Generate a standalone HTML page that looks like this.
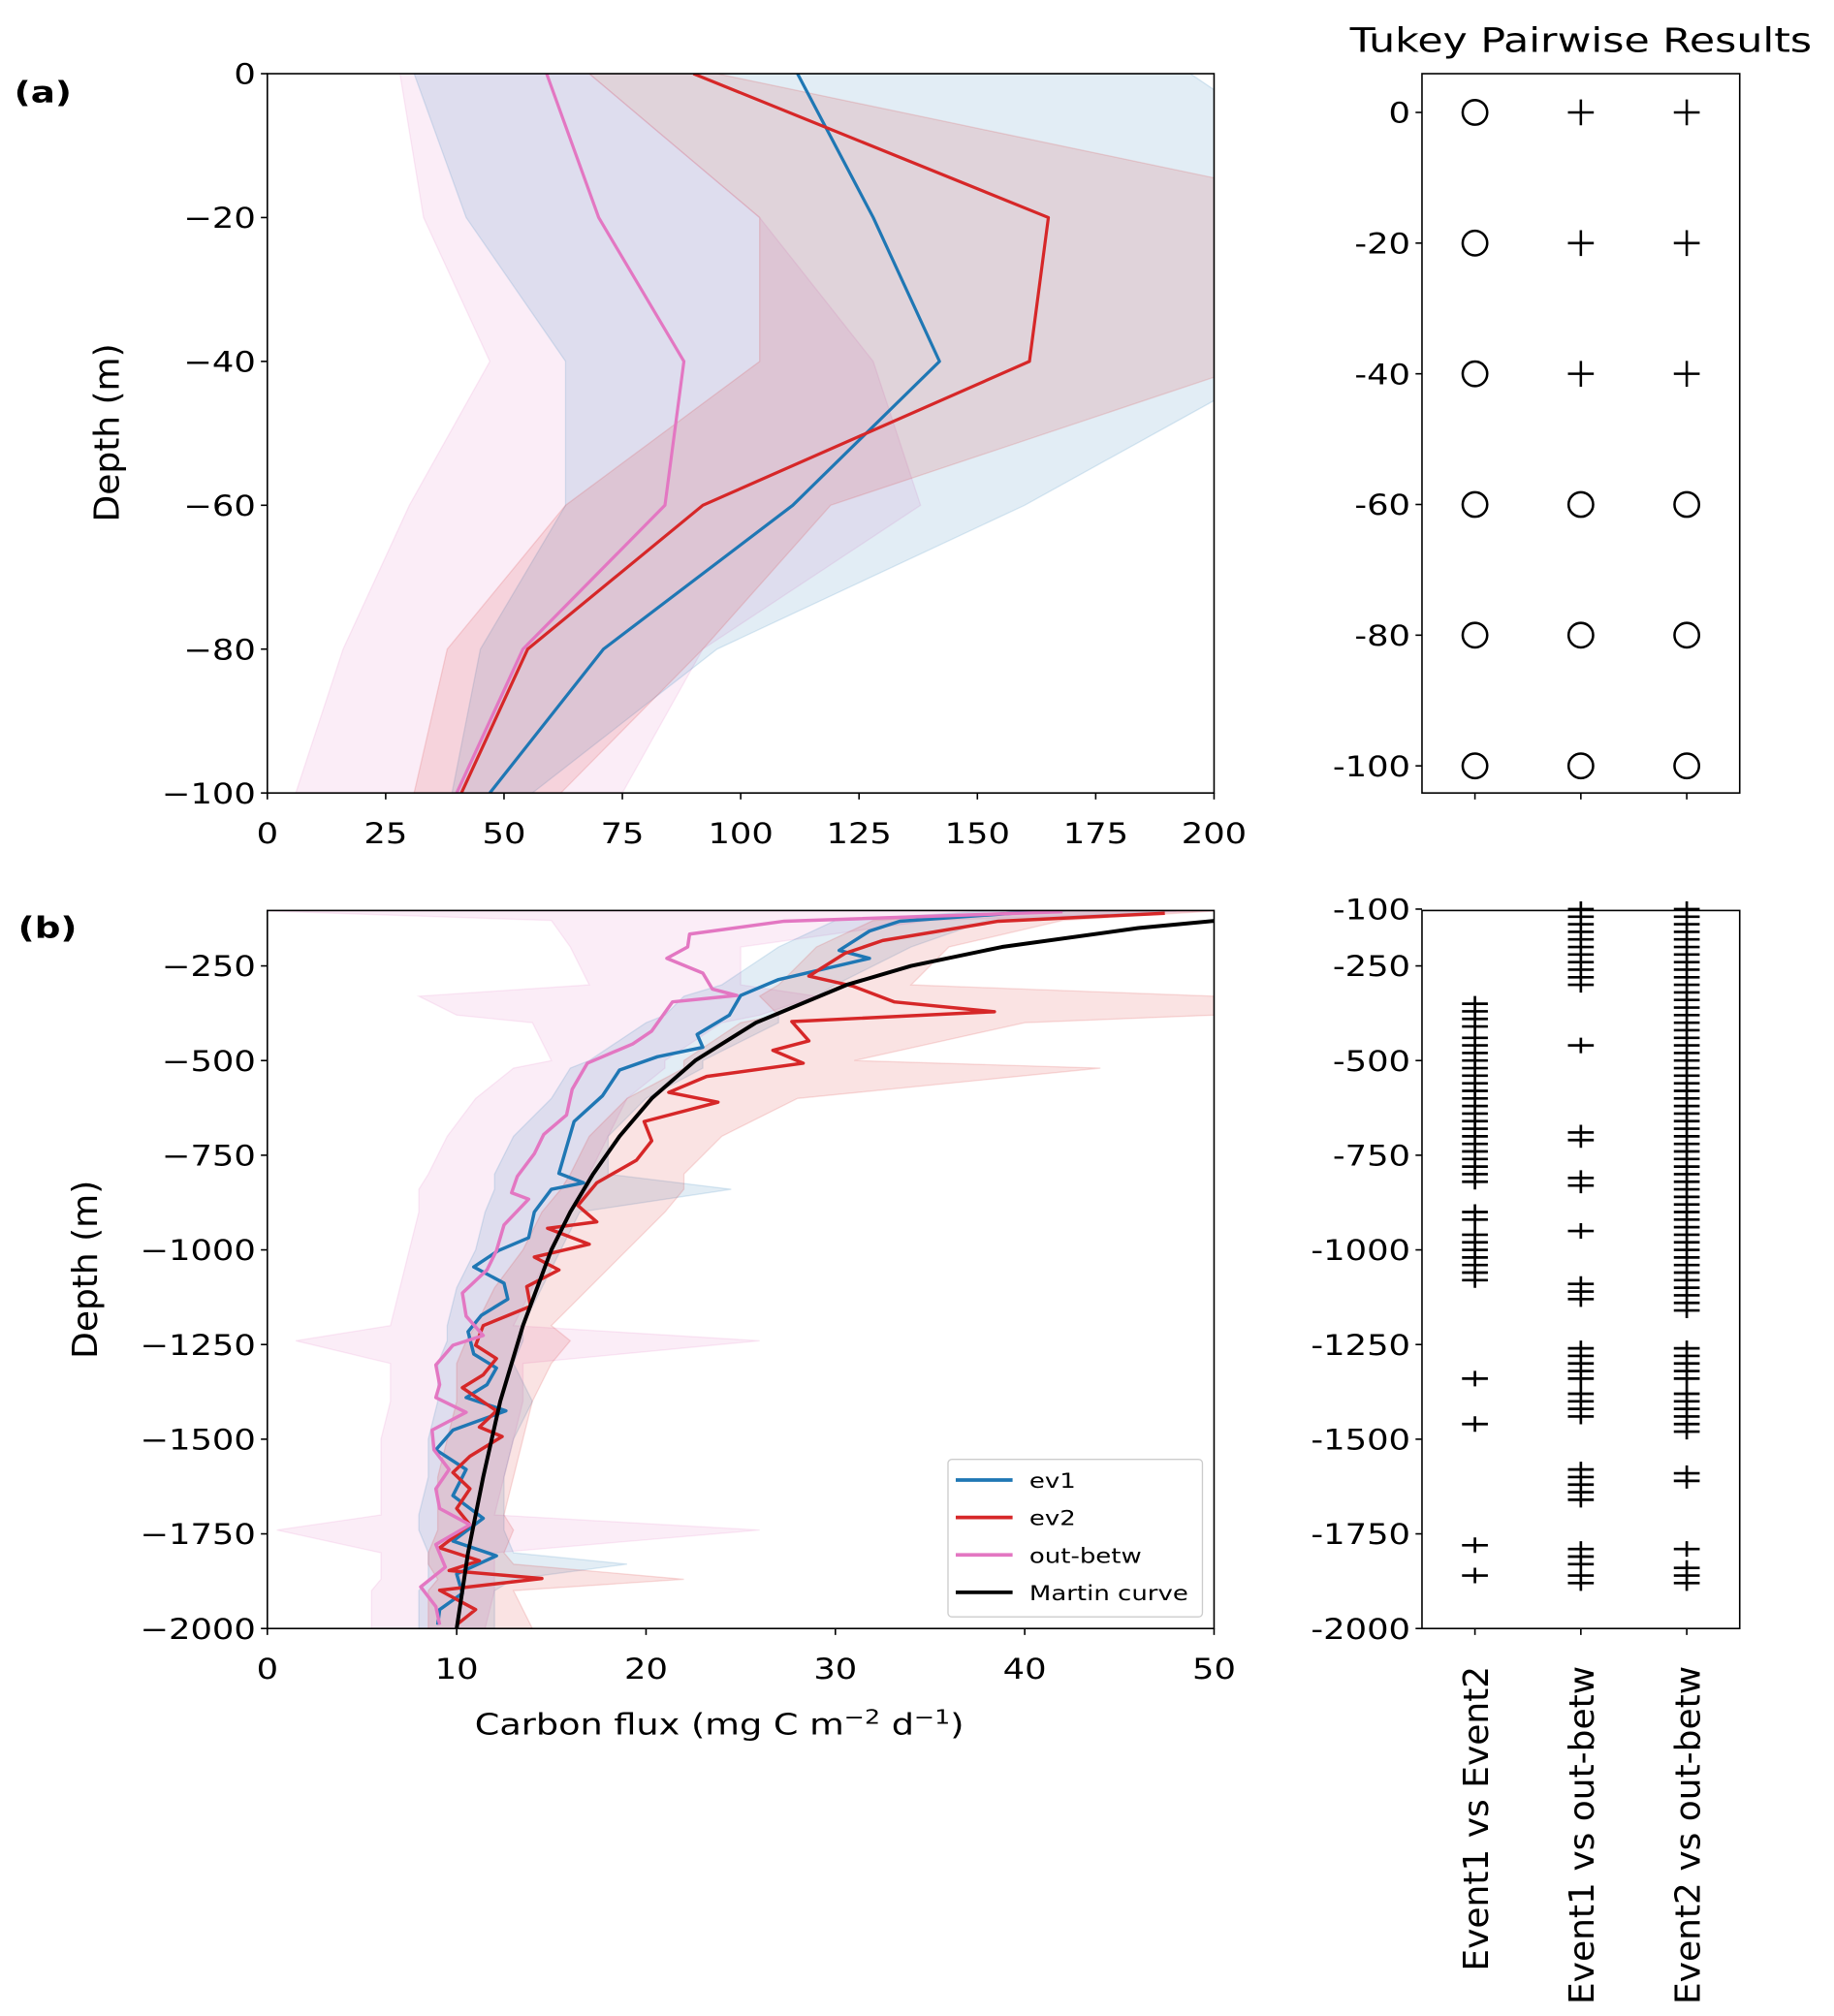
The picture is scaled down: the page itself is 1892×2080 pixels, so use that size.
<!DOCTYPE html>
<html><head><meta charset="utf-8">
<style>html,body{margin:0;padding:0;background:#fff}svg{display:block;font-family:"DejaVu Sans","Liberation Sans",sans-serif}</style>
</head><body>
<svg id="fig" width="1892" height="2080" viewBox="0 0 1420 1561" xmlns="http://www.w3.org/2000/svg">
<defs>
<clipPath id="clipA"><rect x="207" y="57" width="733" height="557"/></clipPath>
<clipPath id="clipB"><rect x="207" y="705" width="733" height="556"/></clipPath>
</defs>
<g id="root"></g>
</svg>
<script>
// ---------- Panel (a) data ----------
const depthsA = [0,-20,-40,-60,-80,-100];
const ev1A = [112,128,142,111,71,47];
const ev2A = [90,165,161,92,55,41];
const outA = [59,70,88,84,54,40];
const ev1ALo = [31,42,63,63,45,39];
const ev1AHi = [195,240,215,160,95,56];
const ev2ALo = [68,104,104,63,38,31];
const ev2AHi = [95,240,210,119,92,62];
const outALo = [28,33,47,30,16,6];
const outAHi = [68,104,128,138,92,75];
const xTicksA = [0,25,50,75,100,125,150,175,200];
const yTicksA = [0,-20,-40,-60,-80,-100];
// Tukey (a): 1 = significant (+), 0 = not (o)
const tukeyA_c1 = [0,0,0,0,0,0];
const tukeyA_c2 = [1,1,1,0,0,0];
const tukeyA_c3 = [1,1,1,0,0,0];
const tukeyLabels = ["Event1 vs Event2","Event1 vs out-betw","Event2 vs out-betw"];

// ---------- Panel (b) data ----------
const ev1BDepth = [-98,-132,-158,-209,-230,-286,-328,-380,-431,-465,-490,-525,-593,-661,-729,-798,-823,-840,-900,-968,-1002,-1045,-1088,-1130,-1173,-1216,-1275,-1312,-1356,-1390,-1425,-1476,-1528,-1580,-1649,-1709,-1769,-1808,-1856,-1907,-1950,-1990];
const ev1BVal = [43,33.4,31.8,30.2,31.8,27,25,24.4,22.7,23,20.6,18.6,17.7,16.2,15.8,15.4,16.7,15,14.1,13.8,12.2,10.9,12.5,12.7,11.3,10.6,10.9,12.1,11.6,10.5,12.6,9.8,8.9,10.5,9.8,11.4,9.8,12.1,10,10.3,9.1,9];
const ev2BDepth = [-111,-132,-183,-217,-277,-303,-345,-371,-397,-448,-473,-507,-542,-584,-610,-661,-712,-763,-823,-883,-926,-943,-985,-1019,-1053,-1097,-1149,-1200,-1252,-1287,-1330,-1364,-1425,-1468,-1493,-1545,-1588,-1631,-1683,-1726,-1787,-1821,-1847,-1868,-1899,-1950,-1990];
const ev2BVal = [47.4,38.6,32.5,30.5,28.6,30.9,33.1,38.4,27.7,28.6,26.7,28.3,23.2,21.2,23.8,19.9,20.3,19.5,17.4,16.4,17.4,14.8,17,14.1,15.4,13.7,13.9,11.4,11,12.1,11.4,10.3,12.1,11.2,12.4,10.7,9.8,10.7,10,10.7,9.1,11.2,9.6,14.5,9.1,11,10];
const outBDepth = [-107,-132,-166,-200,-230,-269,-311,-328,-345,-422,-456,-507,-576,-644,-695,-746,-806,-849,-866,-934,-1002,-1053,-1114,-1175,-1226,-1252,-1304,-1356,-1390,-1429,-1476,-1528,-1580,-1631,-1683,-1726,-1778,-1838,-1890,-1942,-1990];
const outBVal = [42,27.3,22.3,22.2,21.1,23,23.5,24.8,21.4,20.3,19.3,16.9,16.1,15.8,14.6,14.1,13.2,12.9,13.8,12.5,12.1,11.6,10.3,10.5,11.4,9.8,8.9,9.1,8.9,10.5,8.7,8.8,9.6,8.9,9.1,10.7,8.9,9.4,8.1,8.9,9.1];
const martinDepth = [-120,-150,-200,-250,-300,-400,-500,-600,-700,-800,-900,-1000,-1200,-1400,-1600,-1800,-2000];
const martinVal = [52.4,46.0,38.8,34.0,30.6,25.8,22.6,20.3,18.6,17.2,16.0,15.0,13.5,12.3,11.4,10.6,10.0];
const bandDepth = [-105,-130,-200,-300,-330,-380,-400,-500,-520,-600,-700,-800,-840,-900,-1000,-1100,-1200,-1240,-1300,-1400,-1500,-1600,-1700,-1740,-1800,-1830,-1870,-1900,-2000];
const ev1BLo = [38,30,27,24,22,21,20,17,16,15,13,12,12,11.5,11,10,9.5,9.5,9,9,8.5,8.5,8,8,8.5,8.5,8.5,8,8];
const ev1BHi = [48,38,34,30,29,27,27,23,23,20,18,18,24.5,16.5,15.5,14.5,13.5,13.5,13,14,13,12.5,12.5,12.5,13,19,13,12,12];
const ev2BLo = [40,32,29,27,26,27,25,22,22,19,17,16,15.5,14.5,13.5,12,11,10.5,10,10,9.5,9,9,9,8.5,8.5,9,8.5,8.5];
const ev2BHi = [50,42,36,34,50,50,40,31,44,28,24,22,22,21,19,17,15,16,15,14,13.5,13,12.5,13,12.5,13,22,13,14];
const outBLo = [0,15,16,17,8,10,14,15,13,11,9.5,8.5,8,8,7.5,7,6.5,1.5,6.5,6.5,6,6,6,0.5,6,6,6,5.5,5.5];
const outBHi = [50,35,25,25,29,26,24,21,21,19,18,17,17,16,15,14,13,26,13.5,13.5,13,12.5,12,26,12,12,12,12,11.5];
const xTicksB = [0,10,20,30,40,50];
const yTicksB = [-250,-500,-750,-1000,-1250,-1500,-1750,-2000];
const yTicksBr = [-100,-250,-500,-750,-1000,-1250,-1500,-1750,-2000];
// significant depth ranges (20 m spacing) per comparison
const sigC1 = [[-350,-420],[-440,-500],[-520,-600],[-620,-800],[-820,-820],[-900,-920],[-960,-980],[-1000,-1080],[-1340,-1340],[-1460,-1460],[-1780,-1780],[-1860,-1860]];
const sigC2 = [[-100,-300],[-460,-460],[-690,-710],[-810,-830],[-950,-950],[-1090,-1130],[-1260,-1340],[-1380,-1440],[-1580,-1620],[-1640,-1660],[-1790,-1840],[-1860,-1880]];
const sigC3 = [[-100,-340],[-360,-1160],[-1260,-1300],[-1320,-1340],[-1380,-1480],[-1590,-1620],[-1790,-1800],[-1840,-1880]];

// ---------- axis functions ----------
const xA = v => 207 + v * 733 / 200;
const yA = d => 57 + (-d) * 557 / 100;
const xR = c => 1101 + (c - 0.5) * 246 / 3;
const yRA = d => 87 + (-d) * 5.06;
const xB = v => 207 + v * 14.66;
const yB = d => 1261 - (2000 + d) * 0.2932;

const NS = "http://www.w3.org/2000/svg";
const root = document.getElementById('root');
function mk(tag, attrs, parent, text) {
  const e = document.createElementNS(NS, tag);
  for (const k in attrs) e.setAttribute(k, attrs[k]);
  if (text !== undefined) e.textContent = text;
  (parent || root).appendChild(e);
  return e;
}
const SY = 0.82;   // vertical squash of horizontal text
function T(parent, x, y, str, size, anchor, rot, sy) {
  return mk('text', {x: 0, y: 0, 'font-size': size, 'text-anchor': anchor,
    transform: `translate(${x},${y}) rotate(${rot}) scale(1,${sy})`}, parent, str);
}
const C1 = "#1f77b4", C2 = "#d62728", C3 = "#e377c2";
const FS = 26.5;

function band(parent, depths, lo, hi, xf, yf, color, name) {
  let pts = depths.map((d, i) => xf(lo[i]) + "," + yf(d));
  for (let i = depths.length - 1; i >= 0; i--) pts.push(xf(hi[i]) + "," + yf(depths[i]));
  const p = mk('polygon', {points: pts.join(" "), fill: color, 'fill-opacity': 0.13, stroke: color, 'stroke-opacity': 0.15, 'stroke-width': 1}, parent);
  
  
}
function line(parent, depths, vals, xf, yf, color, w, name) {
  const p = mk('polyline', {points: depths.map((d, i) => xf(vals[i]) + "," + yf(d)).join(" "), fill: "none", stroke: color, 'stroke-width': w, 'stroke-linejoin': 'round'}, parent);
  
  
}
function frame(x, y, w, h, name) {
  const r = mk('rect', {x: x, y: y, width: w, height: h, fill: 'none', stroke: '#000', 'stroke-width': 1.2});
  
  
}
function yTicks(ticks, yf, xEdge, fmt, name) {
  const g = mk('g', {});
  
  
  ticks.forEach(t => {
    mk('line', {x1: xEdge - 5, x2: xEdge, y1: yf(t), y2: yf(t), stroke: '#000', 'stroke-width': 1.2}, g);
    T(g, xEdge - 9, yf(t) + 8, fmt(t), FS, 'end', 0, SY);
  });
}
function xTicks(ticks, xf, yEdge, fmt, name) {
  const g = mk('g', {});
  
  
  ticks.forEach(t => {
    mk('line', {x1: xf(t), x2: xf(t), y1: yEdge, y2: yEdge + 5, stroke: '#000', 'stroke-width': 1.2}, g);
    T(g, xf(t), yEdge + 39, fmt(t), FS, 'middle', 0, SY);
  });
}
const minus = t => String(t).replace('-', '\u2212');
const hyph = t => String(t);

// ---------- Panel (a) ----------
const gA = mk('g', {'clip-path': 'url(#clipA)'});


band(gA, depthsA, outALo, outAHi, xA, yA, C3, 'band-a-out-betw');
band(gA, depthsA, ev1ALo, ev1AHi, xA, yA, C1, 'band-a-ev1');
band(gA, depthsA, ev2ALo, ev2AHi, xA, yA, C2, 'band-a-ev2');
line(gA, depthsA, outA, xA, yA, C3, 2.4, 'line-a-out-betw');
line(gA, depthsA, ev1A, xA, yA, C1, 2.4, 'line-a-ev1');
line(gA, depthsA, ev2A, xA, yA, C2, 2.4, 'line-a-ev2');
frame(207, 57, 733, 557, 'panel-a-frame');
yTicks(yTicksA, yA, 207, minus, 'panel-a-y-ticks');
xTicks(xTicksA, xA, 614, hyph, 'panel-a-x-ticks');

// Tukey (a)
frame(1101, 57, 246, 557, 'tukey-a-frame');
yTicks(yTicksA, yRA, 1101, hyph, 'tukey-a-y-ticks');
const gTA = mk('g', {});


[tukeyA_c1, tukeyA_c2, tukeyA_c3].forEach((col, ci) => {
  const x = xR(ci + 1);
  mk('line', {x1: x, x2: x, y1: 614, y2: 619, stroke: '#000', 'stroke-width': 1.2}, gTA);
  col.forEach((s, i) => {
    const y = yRA(depthsA[i]);
    if (s) {
      mk('path', {d: `M${x-10},${y}H${x+10}M${x},${y-10}V${y+10}`, stroke: '#000', 'stroke-width': 1.9}, gTA);
    } else {
      mk('circle', {cx: x, cy: y, r: 9.5, fill: 'none', stroke: '#000', 'stroke-width': 1.9}, gTA);
    }
  });
});

// ---------- Panel (b) ----------
const gB = mk('g', {'clip-path': 'url(#clipB)'});


band(gB, bandDepth, outBLo, outBHi, xB, yB, C3, 'band-b-out-betw');
band(gB, bandDepth, ev1BLo, ev1BHi, xB, yB, C1, 'band-b-ev1');
band(gB, bandDepth, ev2BLo, ev2BHi, xB, yB, C2, 'band-b-ev2');
line(gB, ev1BDepth, ev1BVal, xB, yB, C1, 2.6, 'line-b-ev1');
line(gB, ev2BDepth, ev2BVal, xB, yB, C2, 2.6, 'line-b-ev2');
line(gB, outBDepth, outBVal, xB, yB, C3, 2.6, 'line-b-out-betw');
line(gB, martinDepth, martinVal, xB, yB, '#000', 3, 'line-b-martin-curve');
frame(207, 705, 733, 556, 'panel-b-frame');
yTicks(yTicksB, yB, 207, minus, 'panel-b-y-ticks');
xTicks(xTicksB, xB, 1261, hyph, 'panel-b-x-ticks');

// Tukey (b)
frame(1101, 705, 246, 556, 'tukey-b-frame');
yTicks(yTicksBr, yB, 1101, hyph, 'tukey-b-y-ticks');
const gTB = mk('g', {});


[sigC1, sigC2, sigC3].forEach((ranges, ci) => {
  const x = xR(ci + 1);
  mk('line', {x1: x, x2: x, y1: 1261, y2: 1266, stroke: '#000', 'stroke-width': 1.2}, gTB);
  let d = "";
  ranges.forEach(r => {
    for (let z = r[0]; z >= r[1]; z -= 20) {
      const y = yB(z);
      d += `M${x-10},${y}H${x+10}M${x},${y-6}V${y+6}`;
    }
  });
  mk('path', {d: d, stroke: '#000', 'stroke-width': 2, fill: 'none'}, gTB);
  const t = T(null, x + 10, 1290, tukeyLabels[ci], 27, 'end', -90, 1);
  
  
});

// ---------- titles / labels ----------
const tt = T(null, 1224, 40, "Tukey Pairwise Results", 32, 'middle', 0, SY);


const la = T(null, 11, 79, "(a)", 28, 'start', 0, SY);
la.setAttribute('font-weight', 'bold');


const lb = T(null, 14, 726, "(b)", 28, 'start', 0, SY);
lb.setAttribute('font-weight', 'bold');


const ya = T(null, 92, 335, "Depth (m)", 27, 'middle', -90, 1);


const yb = T(null, 75, 983, "Depth (m)", 27, 'middle', -90, 1);



root.insertAdjacentHTML('beforeend', `
<g transform="translate(557,1343) scale(1,0.82)">
<text x="0" y="0" text-anchor="middle" font-size="27.5">Carbon flux (mg C m<tspan dy="-10" font-size="19">−2</tspan><tspan dy="10"> d</tspan><tspan dy="-10" font-size="19">−1</tspan><tspan dy="10">)</tspan></text>
</g>
<g>
<rect x="734" y="1130" width="197" height="122" rx="3" fill="#fff" fill-opacity="0.85" stroke="#ccc" stroke-width="1"/>
<line x1="740" x2="784" y1="1146" y2="1146" stroke="#1f77b4" stroke-width="2.8"/>
<text transform="translate(797,1152) scale(1,0.82)" font-size="19.5">ev1</text>
<line x1="740" x2="784" y1="1175" y2="1175" stroke="#d62728" stroke-width="2.8"/>
<text transform="translate(797,1181) scale(1,0.82)" font-size="19.5">ev2</text>
<line x1="740" x2="784" y1="1204" y2="1204" stroke="#e377c2" stroke-width="2.8"/>
<text transform="translate(797,1210) scale(1,0.82)" font-size="19.5">out-betw</text>
<line x1="740" x2="784" y1="1233" y2="1233" stroke="#000" stroke-width="2.8"/>
<text transform="translate(797,1239) scale(1,0.82)" font-size="19.5">Martin curve</text>
</g>`);
</script>
</body></html>
